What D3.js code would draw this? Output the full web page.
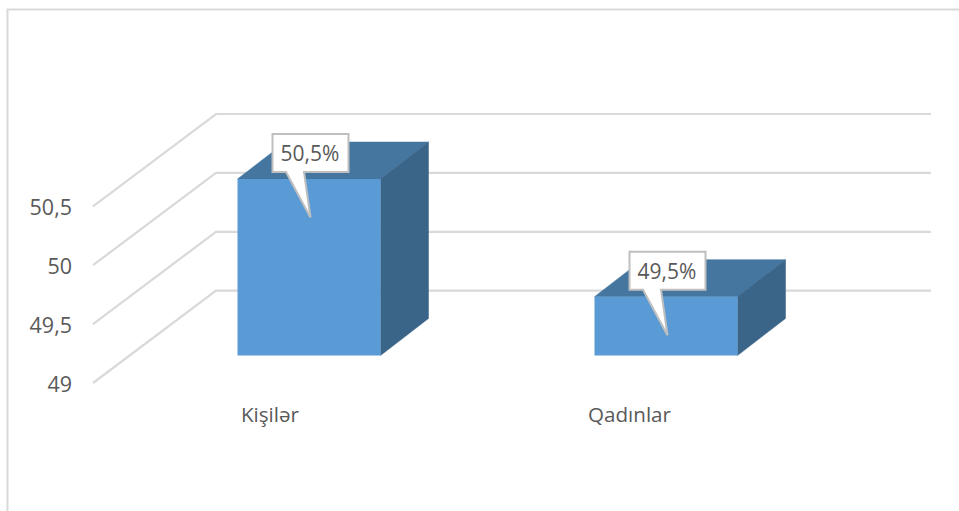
<!DOCTYPE html>
<html><head><meta charset="utf-8">
<script src="https://cdnjs.cloudflare.com/ajax/libs/d3/7.8.5/d3.min.js"></script>
<style>html,body{margin:0;padding:0;background:#fff}svg{display:block}text{font-family:"Open Sans",sans-serif;fill:#595959}</style>
</head><body><svg id="c" width="959" height="511"></svg>
<script>
const categories = ["Kişilər", "Qadınlar"];
const values = [50.5, 49.5];
const valueLabels = ["50,5%", "49,5%"];
const ticks = [49, 49.5, 50, 50.5];
const tickLabels = ["49", "49,5", "50", "50,5"];

const W = 959, H = 511;
const svg = d3.select("#c");
const frame = {x:7.5, y:9.5};
const wall = {dx:123, dy:-92.3, right:931};
const barDepth = {dx:48, dy:-37};

const xFront = d3.scaleBand().domain(categories).range([59, 917]).paddingInner(0.6).paddingOuter(0.5);
const xBar = c => Math.round(xFront(c)) - 0.5;
const yAxis = d3.scaleLinear().domain([49, 50.5]).range([383, 206.3]);
const yBar = d3.scaleLinear().domain([49, 50.5]).range([355.5, 179]);

svg.append("path").attr("d", `M${frame.x},${H} V${frame.y} H${W}`)
  .attr("fill","none").attr("stroke","#d9d9d9").attr("stroke-width",2);

svg.append("g").selectAll("path").data(ticks).join("path")
  .attr("d", t => { const x0 = 93, y = yAxis(t);
    return `M${x0},${y} L${x0+wall.dx},${y+wall.dy} H${wall.right}`; })
  .attr("fill","none").attr("stroke","#d9d9d9").attr("stroke-width",2.2);

svg.append("g").selectAll("text").data(ticks).join("text")
  .attr("x", 72).attr("y", t => yAxis(t)+1).attr("dy","0.36em")
  .attr("text-anchor","end").attr("font-size",21.5)
  .text((t,i) => tickLabels[i]);

const data = categories.map((c,i) => ({c, v:values[i], label:valueLabels[i]}));
const bars = svg.append("g").selectAll("g").data(data).join("g");
const bw = Math.round(xFront.bandwidth());
bars.append("path").attr("fill","#44769f").attr("stroke","#44769f").attr("stroke-width",0.5)
  .attr("d", d => { const x = xBar(d.c), y = yBar(d.v);
    return `M${x},${y} l${barDepth.dx},${barDepth.dy} h${bw} l${-barDepth.dx},${-barDepth.dy} Z`; });
bars.append("path").attr("fill","#3a6488").attr("stroke","#3a6488").attr("stroke-width",0.5)
  .attr("d", d => { const x = xBar(d.c)+bw, y = yBar(d.v), y0 = yBar(49);
    return `M${x},${y} l${barDepth.dx},${barDepth.dy} V${y0+barDepth.dy} L${x},${y0} Z`; });
bars.append("rect").attr("fill","#5b9bd5")
  .attr("x", d => xBar(d.c)).attr("y", d => yBar(d.v))
  .attr("width", bw).attr("height", d => yBar(49)-yBar(d.v));

svg.append("g").selectAll("text").data(data).join("text")
  .attr("x", d => xBar(d.c)+ (d.c===categories[0] ? 3.5 : -6.5)).attr("y", 415).attr("dy","0.36em")
  .attr("font-size",20.6).text(d => d.c);

const callouts = svg.append("g").selectAll("g").data(data).join("g")
  .attr("transform", d => `translate(${xBar(d.c)+34.5},${yBar(d.v)-45.5})`);
callouts.append("path").attr("fill","#fff").attr("stroke","#bfbfbf").attr("stroke-width",2)
  .attr("stroke-linejoin","miter")
  .attr("d","M0.5,0.5 H76.5 V38.5 H32 L38.5,84 L14,38.5 H0.5 Z");
callouts.append("text").attr("x",38).attr("y",20).attr("dy","0.36em")
  .attr("text-anchor","middle").attr("font-size",21).text(d => d.label);
</script></body></html>
